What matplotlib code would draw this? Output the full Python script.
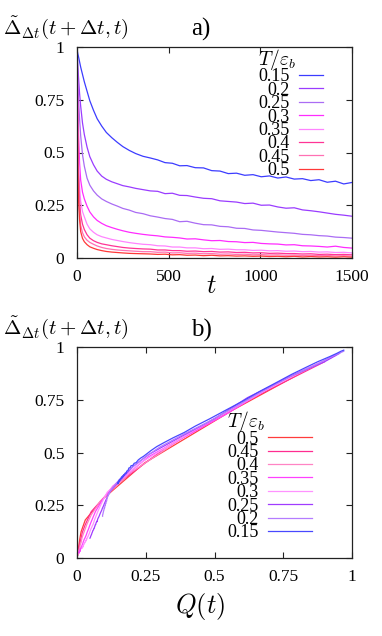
import matplotlib
matplotlib.use('Agg')
import matplotlib.pyplot as plt

plt.rcParams['font.family'] = ['Liberation Serif', 'DejaVu Serif']
plt.rcParams['mathtext.fontset'] = 'cm'

# ---------------- data ----------------
t = [1, 2, 4, 8, 14, 20, 30, 40, 55, 70, 90, 110, 135, 160, 190, 220, 250, 285, 320, 360,
     400, 440, 480, 520, 560, 600, 645, 690, 735, 780, 825, 870, 915, 960, 1005, 1050, 1095,
     1140, 1185, 1230, 1275, 1320, 1365, 1410, 1455, 1500]

temps = ['0.15', '0.2', '0.25', '0.3', '0.35', '0.4', '0.45', '0.5']

delta_015 = [0.985, 0.98, 0.97, 0.955, 0.93, 0.905, 0.87, 0.835, 0.79, 0.745,
             0.70, 0.66, 0.625, 0.595, 0.57, 0.548, 0.528, 0.51, 0.495, 0.482,
             0.474, 0.465, 0.452, 0.449, 0.437, 0.438, 0.428, 0.427, 0.414, 0.412,
             0.400, 0.402, 0.392, 0.395, 0.385, 0.389, 0.379, 0.384, 0.374, 0.376,
             0.367, 0.371, 0.359, 0.364, 0.351, 0.358]
delta_02 = [0.98, 0.96, 0.92, 0.86, 0.78, 0.72, 0.64, 0.585, 0.525, 0.48,
            0.442, 0.412, 0.388, 0.373, 0.361, 0.352, 0.343, 0.337, 0.33, 0.324,
            0.318, 0.316, 0.305, 0.307, 0.297, 0.296, 0.289, 0.283, 0.281, 0.271,
            0.268, 0.265, 0.258, 0.26, 0.25, 0.251, 0.242, 0.236, 0.238, 0.228,
            0.224, 0.219, 0.213, 0.207, 0.203, 0.198]
delta_025 = [0.97, 0.93, 0.86, 0.76, 0.66, 0.58, 0.49, 0.435, 0.378, 0.345,
             0.318, 0.298, 0.28, 0.268, 0.256, 0.246, 0.235, 0.227, 0.216, 0.21,
             0.2, 0.194, 0.187, 0.183, 0.172, 0.174, 0.165, 0.158, 0.157, 0.15,
             0.148, 0.141, 0.14, 0.133, 0.131, 0.127, 0.123, 0.12, 0.117, 0.112,
             0.11, 0.106, 0.104, 0.099, 0.097, 0.094]
delta_03 = [0.96, 0.9, 0.78, 0.6, 0.45, 0.37, 0.312, 0.28, 0.245, 0.218,
            0.195, 0.178, 0.164, 0.153, 0.144, 0.136, 0.129, 0.122, 0.117, 0.112,
            0.108, 0.105, 0.1, 0.098, 0.095, 0.09, 0.091, 0.086, 0.082, 0.083,
            0.078, 0.077, 0.073, 0.074, 0.069, 0.067, 0.066, 0.062, 0.063, 0.058,
            0.057, 0.055, 0.052, 0.056, 0.05, 0.047]
delta_035 = [0.95, 0.85, 0.68, 0.48, 0.34, 0.27, 0.22, 0.195, 0.16, 0.138,
             0.122, 0.11, 0.101, 0.095, 0.088, 0.083, 0.078, 0.073, 0.069, 0.065,
             0.063, 0.058, 0.057, 0.052, 0.052, 0.048, 0.048, 0.044, 0.045, 0.041,
             0.042, 0.039, 0.039, 0.036, 0.037, 0.034, 0.035, 0.032, 0.033, 0.03,
             0.031, 0.028, 0.029, 0.026, 0.027, 0.024]
delta_04 = [0.94, 0.8, 0.6, 0.4, 0.27, 0.205, 0.16, 0.135, 0.11, 0.094,
            0.082, 0.074, 0.067, 0.063, 0.058, 0.054, 0.05, 0.047, 0.045, 0.043,
            0.042, 0.038, 0.038, 0.035, 0.035, 0.032, 0.033, 0.03, 0.031, 0.028,
            0.029, 0.026, 0.027, 0.024, 0.025, 0.022, 0.023, 0.021, 0.021, 0.019,
            0.02, 0.017, 0.018, 0.016, 0.017, 0.015]
delta_045 = [0.93, 0.75, 0.53, 0.34, 0.22, 0.155, 0.12, 0.1, 0.084, 0.074,
             0.065, 0.057, 0.05, 0.045, 0.041, 0.038, 0.036, 0.034, 0.032, 0.03,
             0.03, 0.027, 0.028, 0.024, 0.025, 0.022, 0.023, 0.02, 0.021, 0.018,
             0.019, 0.017, 0.018, 0.015, 0.016, 0.014, 0.015, 0.013, 0.014, 0.012,
             0.013, 0.011, 0.012, 0.01, 0.011, 0.009]
delta_05 = [0.92, 0.7, 0.45, 0.28, 0.18, 0.125, 0.093, 0.077, 0.063, 0.053,
            0.046, 0.04, 0.035, 0.031, 0.028, 0.026, 0.024, 0.022, 0.021, 0.02,
            0.019, 0.017, 0.018, 0.015, 0.016, 0.013, 0.014, 0.011, 0.013, 0.01,
            0.011, 0.009, 0.01, 0.008, 0.009, 0.007, 0.008, 0.006, 0.008, 0.005,
            0.007, 0.005, 0.006, 0.004, 0.006, 0.004]

q_015 = [0.97, 0.96, 0.945, 0.92, 0.875, 0.835, 0.78, 0.73, 0.665, 0.605,
         0.54, 0.483, 0.43, 0.39, 0.35, 0.318, 0.29, 0.27, 0.255, 0.242,
         0.232, 0.223, 0.215, 0.208, 0.202, 0.197, 0.193, 0.189, 0.185, 0.181,
         0.178, 0.175, 0.172, 0.17, 0.168, 0.166, 0.164, 0.162, 0.16, 0.158,
         0.156, 0.154, 0.152, 0.151, 0.149, 0.148]
q_02 = [0.97, 0.935, 0.875, 0.775, 0.66, 0.58, 0.47, 0.385, 0.30, 0.25,
        0.212, 0.184, 0.165, 0.155, 0.147, 0.141, 0.136, 0.132, 0.128, 0.125,
        0.122, 0.12, 0.118, 0.116, 0.114, 0.113, 0.111, 0.11, 0.109, 0.108,
        0.107, 0.106, 0.104, 0.104, 0.103, 0.102, 0.101, 0.1, 0.099, 0.098,
        0.097, 0.096, 0.095, 0.094, 0.093, 0.093]
q_025 = [0.955, 0.9, 0.775, 0.62, 0.5, 0.385, 0.26, 0.205, 0.163, 0.14,
         0.122, 0.113, 0.107, 0.103, 0.099, 0.096, 0.092, 0.09, 0.086, 0.084,
         0.081, 0.079, 0.076, 0.075, 0.073, 0.072, 0.069, 0.068, 0.066, 0.065,
         0.064, 0.063, 0.061, 0.06, 0.058, 0.057, 0.056, 0.055, 0.054, 0.053,
         0.052, 0.051, 0.05, 0.049, 0.048, 0.047]
q_03 = [0.94, 0.84, 0.665, 0.42, 0.23, 0.158, 0.11, 0.097, 0.084, 0.075,
        0.068, 0.063, 0.06, 0.056, 0.053, 0.05, 0.048, 0.046, 0.045, 0.043,
        0.042, 0.041, 0.039, 0.038, 0.037, 0.036, 0.035, 0.034, 0.033, 0.032,
        0.031, 0.03, 0.029, 0.028, 0.027, 0.026, 0.025, 0.024, 0.024, 0.023,
        0.022, 0.022, 0.021, 0.02, 0.02, 0.019]
q_035 = [0.925, 0.755, 0.54, 0.26, 0.13, 0.09, 0.067, 0.059, 0.048, 0.042,
         0.037, 0.034, 0.031, 0.029, 0.026, 0.025, 0.023, 0.022, 0.021, 0.02,
         0.019, 0.018, 0.017, 0.016, 0.016, 0.015, 0.014, 0.014, 0.013, 0.013,
         0.012, 0.012, 0.012, 0.011, 0.011, 0.011, 0.01, 0.01, 0.01, 0.009,
         0.009, 0.009, 0.008, 0.008, 0.008, 0.008]
q_04 = [0.91, 0.69, 0.42, 0.19, 0.085, 0.052, 0.036, 0.029, 0.022, 0.018,
        0.016, 0.015, 0.013, 0.012, 0.011, 0.011, 0.01, 0.0095, 0.009, 0.0085,
        0.008, 0.0078, 0.0075, 0.0072, 0.007, 0.0067, 0.0065, 0.0062, 0.006, 0.0058,
        0.0056, 0.0054, 0.0052, 0.005, 0.0048, 0.0046, 0.0044, 0.0042, 0.004, 0.004,
        0.0038, 0.0036, 0.0034, 0.0034, 0.0032, 0.003]
q_045 = [0.9, 0.625, 0.33, 0.135, 0.052, 0.029, 0.019, 0.016, 0.013, 0.011,
         0.0095, 0.0082, 0.007, 0.0063, 0.0057, 0.0053, 0.005, 0.0047, 0.0044, 0.004,
         0.0039, 0.0038, 0.0036, 0.0034, 0.0033, 0.0031, 0.003, 0.0029, 0.0027, 0.0026,
         0.0025, 0.0024, 0.0023, 0.0022, 0.0021, 0.002, 0.002, 0.0019, 0.0018, 0.0018,
         0.0017, 0.0016, 0.0016, 0.0015, 0.0015, 0.0014]
q_05 = [0.875, 0.565, 0.245, 0.094, 0.03, 0.015, 0.0105, 0.0087, 0.0071, 0.006,
        0.0052, 0.0045, 0.004, 0.0035, 0.0032, 0.003, 0.0027, 0.0025, 0.0024, 0.0023,
        0.0022, 0.0021, 0.002, 0.0019, 0.0018, 0.0016, 0.0015, 0.0014, 0.0014, 0.0013,
        0.0012, 0.0011, 0.0011, 0.001, 0.001, 0.0009, 0.0009, 0.0008, 0.0008, 0.0007,
        0.0007, 0.0007, 0.0006, 0.0006, 0.0006, 0.0005]

deltas = {'0.15': delta_015, '0.2': delta_02, '0.25': delta_025, '0.3': delta_03,
          '0.35': delta_035, '0.4': delta_04, '0.45': delta_045, '0.5': delta_05}
qs = {'0.15': q_015, '0.2': q_02, '0.25': q_025, '0.3': q_03,
      '0.35': q_035, '0.4': q_04, '0.45': q_045, '0.5': q_05}

xticks_a = [0, 500, 1000, 1500]
xtick_labels_a = ['0', '500', '1000', '1500']
yticks = [0, 0.25, 0.5, 0.75, 1]
ytick_labels = ['0', '0.25', '0.5', '0.75', '1']
xticks_b = [0, 0.25, 0.5, 0.75, 1]
xtick_labels_b = ['0', '0.25', '0.5', '0.75', '1']

# ---------------- styles ----------------
colors_a = {'0.15': '#3c3cff', '0.2': '#9a3cff', '0.25': '#aa6cf4', '0.3': '#ff2cff',
            '0.35': '#ff84ff', '0.4': '#ff3496', '0.45': '#ff70b4', '0.5': '#ff3838'}
colors_b = {'0.5': '#ff3c3c', '0.45': '#ff2c90', '0.4': '#ff84c4', '0.35': '#ff40ff',
            '0.3': '#ff92ff', '0.25': '#a03cff', '0.2': '#b47cff', '0.15': '#4848ff'}

W, H = 382, 636
fig = plt.figure(figsize=(W / 100, H / 100), dpi=100)

def px_axes(left, top, right, bottom):
    return fig.add_axes([left / W, 1 - bottom / H, (right - left) / W, (bottom - top) / H])

ax1 = px_axes(77, 47, 352, 258)
ax2 = px_axes(77, 347, 352, 558)

for ax in (ax1, ax2):
    for s in ax.spines.values():
        s.set_linewidth(0.9)
        s.set_color('#222222')
    ax.tick_params(direction='in', top=True, right=True, length=4, width=0.8,
                   labelsize=12.5, colors='#222222', labelcolor='black')
    ax.tick_params(axis='y', pad=9)
    ax.tick_params(axis='x', pad=8)
    ax.set_yticks(yticks)
    ax.set_yticklabels(ytick_labels)
    ax.set_ylim(0, 1)

legend_kw = dict(loc='upper right', frameon=False, markerfirst=False, fontsize=13,
                 handletextpad=0.5, labelspacing=-0.2, borderpad=0, borderaxespad=0,
                 title='$T/\\varepsilon_b$', title_fontsize=14, alignment='left')

# panel a
for T in temps:
    ax1.plot(t, deltas[T], color=colors_a[T], lw=0.9, label=T)
ax1.set_xlim(0, 1500)
ax1.set_xticks(xticks_a)
ax1.set_xticklabels(xtick_labels_a)
ax1.legend(bbox_to_anchor=(0.895, 1.0), handlelength=1.35, **legend_kw)

# panel b
for T in temps[::-1]:
    ax2.plot(qs[T], deltas[T], color=colors_b[T], lw=0.9, label=T)
ax2.set_xlim(0, 1)
ax2.set_xticks(xticks_b)
ax2.set_xticklabels(xtick_labels_b)
ax2.legend(bbox_to_anchor=(0.855, 0.705), handlelength=2.45, **legend_kw)

ylab = '$\\tilde{\\Delta}_{\\Delta t}(t+\\Delta t,t)$'
fig.text(3 / W, 1 - 28 / H, ylab, fontsize=15, ha='left', va='center')
fig.text(3 / W, 1 - 328 / H, ylab, fontsize=15, ha='left', va='center')
fig.text(201 / W, 1 - 29 / H, 'a)', fontsize=18, ha='center', va='center')
fig.text(201 / W, 1 - 330 / H, 'b)', fontsize=18, ha='center', va='center')
fig.text(211 / W, 1 - 287 / H, '$t$', fontsize=19, ha='center', va='center')
fig.text(200 / W, 1 - 606 / H, '$Q(t)$', fontsize=19, ha='center', va='center')

fig.savefig('out.png', dpi=100)
